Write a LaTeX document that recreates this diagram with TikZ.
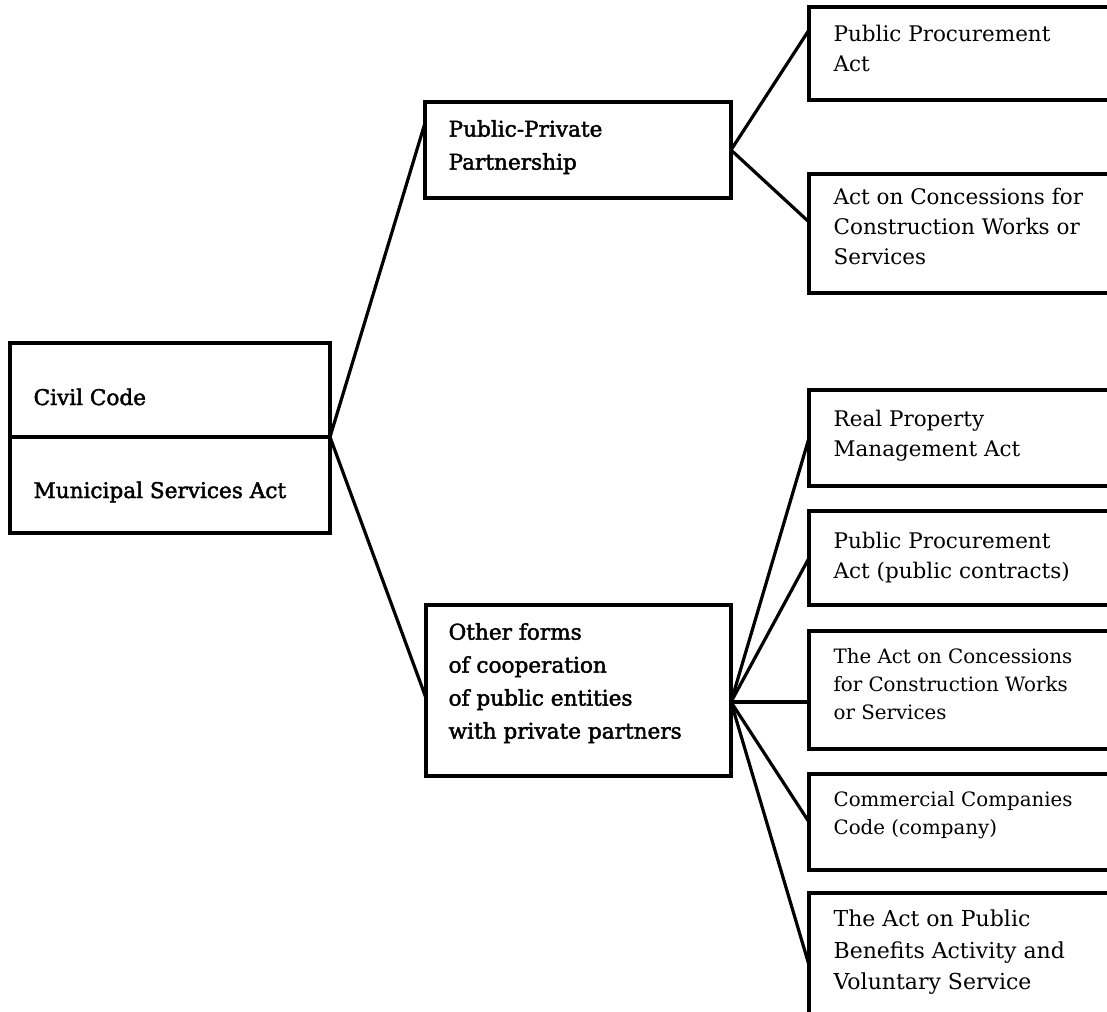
\documentclass[tikz,border=0pt]{standalone}
\usepackage{fontspec}
\newfontfamily\rfont{DejaVu Serif}
\newfontfamily\lfont[FakeBold=2]{DejaVu Serif}
\begin{document}
\begin{tikzpicture}[x=1pt,y=-1pt,line width=3.2pt,
  box/.style 2 args={draw, anchor=north west, inner sep=0pt, outer sep=0pt,
    minimum width=#1pt, minimum height=#2pt},
  ltext/.style={anchor=base west, inner sep=0pt, font=\lfont\fontsize{21.6}{33}\selectfont},
  mtext/.style={anchor=north west, inner sep=0pt, align=left, font=\lfont\fontsize{21.6}{33}\selectfont},
  rtext/.style={anchor=north west, inner sep=0pt, align=left, font=\rfont\fontsize{21.5}{30}\selectfont},
  stext/.style={anchor=north west, inner sep=0pt, align=left, font=\rfont\fontsize{19.8}{28}\selectfont},
  btext/.style={anchor=north west, inner sep=0pt, align=left, font=\rfont\fontsize{22}{31.5}\selectfont},
  link/.style={line cap=round}]
\useasboundingbox (0,0) rectangle (1107,1011);
\clip (0,0) rectangle (1107,1011);
% left box
\node[box={320}{94}] (L1) at (10,343) {};
\node[box={320}{96}] (L2) at (10,437) {};
\node[ltext] (tL1) at (32,405) {Civil Code};
\node[ltext] (tL2) at (32,498) {Municipal Services Act};
% middle boxes
\node[box={306}{96}] (PPP) at (425,102) {};
\node[mtext] (tPPP) at (447,115) {\rule{0pt}{20pt}Public-Private\\Partnership};
\node[box={305}{171}] (OTH) at (426,605) {};
\node[mtext] (tOTH) at (447,618) {\rule{0pt}{20pt}Other forms\\of cooperation\\of public entities\\with private partners};
% right boxes
\node[box={340}{93}] (R1) at (809,7) {};
\node[rtext] (tR1) at (832,20) {\rule{0pt}{20pt}Public Procurement\\Act};
\node[box={340}{119}] (R2) at (809,174) {};
\node[rtext] (tR2) at (832,183) {\rule{0pt}{20pt}Act on Concessions for\\Construction Works or\\Services};
\node[box={340}{96}] (R3) at (809,390) {};
\node[rtext] (tR3) at (832,405) {\rule{0pt}{20pt}Real Property\\Management Act};
\node[box={340}{94}] (R4) at (809,511) {};
\node[rtext] (tR4) at (832,527) {\rule{0pt}{20pt}Public Procurement\\Act (public contracts)};
\node[box={340}{118}] (R5) at (809,631) {};
\node[stext] (tR5) at (832,642) {\rule{0pt}{20pt}The Act on Concessions\\for Construction Works\\or Services};
\node[box={340}{96}] (R6) at (809,774) {};
\node[stext] (tR6) at (832,785) {\rule{0pt}{20pt}Commercial Companies\\Code (company)};
\node[box={340}{144}] (R7) at (809,893) {};
\node[btext] (tR7) at (832,905) {\rule{0pt}{20pt}The Act on Public\\Benefits Activity and\\Voluntary Service};
% hubs
\coordinate (hubL) at (L1.south east);
\coordinate (hubP) at (PPP.east);
\coordinate (hubO) at ([yshift=-11.5pt]OTH.east);
% connectors
\draw[link] (hubL) -- ([yshift=-21pt]PPP.north west);
\draw[link] (hubL) -- ([yshift=-7.5pt]OTH.west);
\draw[link] (hubP) -- ([yshift=-23pt]R1.north west);
\draw[link] (hubP) -- ([yshift=-48pt]R2.north west);
\draw[link] (hubO) -- (R3.west);
\draw[link] (hubO) -- (R4.west);
\draw[link] (hubO) -- ([yshift=-71pt]R5.north west);
\draw[link] (hubO) -- (R6.west);
\draw[link] (hubO) -- ([yshift=-72pt]R7.north west);
\end{tikzpicture}
\end{document}
